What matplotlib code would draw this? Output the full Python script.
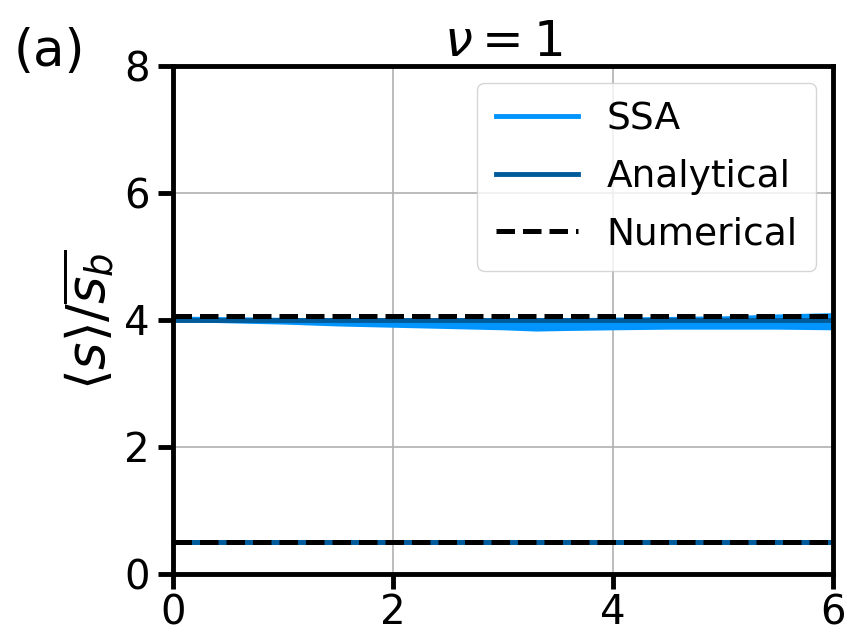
import matplotlib
matplotlib.use("Agg")
import matplotlib.pyplot as plt
import numpy as np

# ---- data ----
t_line = [0, 6]
analytical_high = [4.0, 4.0]
analytical_low = [0.5, 0.5]
numerical_high = [4.06, 4.06]
numerical_low = [0.5, 0.5]

t_ssa = [0, 0.5, 1, 1.5, 2, 2.5, 3, 3.3, 3.6, 4, 4.5, 5, 5.5, 6]
ssa_high_mean = [4.01, 4.0, 3.99, 3.98, 3.97, 3.96, 3.95, 3.94, 3.95, 3.95, 3.96, 3.97, 3.98, 3.98]
ssa_high_upper = [4.03, 4.03, 4.03, 4.03, 4.03, 4.03, 4.03, 4.03, 4.03, 4.04, 4.05, 4.06, 4.09, 4.11]
ssa_high_lower = [3.97, 3.95, 3.93, 3.90, 3.88, 3.86, 3.84, 3.82, 3.83, 3.84, 3.85, 3.85, 3.85, 3.84]
ssa_low_mean = [0.5, 0.5, 0.5, 0.5, 0.5, 0.5, 0.5, 0.5, 0.5, 0.5, 0.5, 0.5, 0.5, 0.5]

xticks = [0, 2, 4, 6]
yticks = [0, 2, 4, 6, 8]

c_ssa = '#0094FF'
c_ana = '#005B9A'

plt.rcParams['font.family'] = ['DejaVu Sans']
plt.rcParams['mathtext.fontset'] = 'dejavusans'

fig = plt.figure(figsize=(8.45, 6.38), dpi=100)
ax = fig.add_axes([0.205, 0.101, 0.781, 0.796])

ax.fill_between(t_ssa, ssa_high_lower, ssa_high_upper, color=c_ssa, lw=0)
ax.plot(t_ssa, ssa_high_mean, color=c_ssa, lw=3.5, label='SSA')
ax.plot(t_ssa, ssa_low_mean, color=c_ssa, lw=3.5)
ax.plot(t_line, analytical_high, color=c_ana, lw=3.5, label='Analytical')
ax.plot(t_line, analytical_low, color=c_ana, lw=3.5)
ax.plot(t_line, numerical_high, color='black', ls='--', lw=3.6, label='Numerical')
ax.plot(t_line, numerical_low, color='black', ls='--', lw=3.6)

ax.set_xlim(0, 6)
ax.set_ylim(0, 8)
ax.set_xticks(xticks)
ax.set_yticks(yticks)
ax.grid(True, color='#b0b0b0', lw=1.2)
ax.set_axisbelow(True)
for s in ax.spines.values():
    s.set_linewidth(3.5)
ax.tick_params(labelsize=29, width=3.5, length=11, pad=6)
ax.tick_params(axis='x', pad=3)

ax.set_title(r'$\nu = 1$', fontsize=36, pad=6)
ax.set_ylabel(r'$\langle s\rangle/\overline{s_b}$', fontsize=38, labelpad=6)
fig.text(0.016, 0.897, '(a)', fontsize=37, ha='left', va='baseline')

leg = ax.legend(loc='upper right', fontsize=27, handlelength=2.2, borderpad=0.5,
                labelspacing=0.57, handletextpad=0.75, borderaxespad=0.45)

fig.savefig('out.png', dpi=100)
